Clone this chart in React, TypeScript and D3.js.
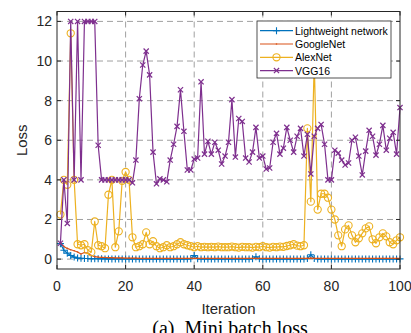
import React from "react";
import * as d3 from "d3";

// iteration numbers 1..100
const iterations = d3.range(1, 101);

const lightweight = [
  0.78, 0.45, 0.3, 0.18, 0.1, 0.05, 0.04, 0.03, 0.03, 0.02,
  0.02, 0.02, 0.02, 0.01, 0.01, 0.01, 0.01, 0.01, 0.01, 0.01,
  0.01, 0.01, 0.01, 0.01, 0.01, 0.01, 0.01, 0.01, 0.01, 0.01,
  0.01, 0.01, 0.01, 0.01, 0.01, 0.01, 0.01, 0.01, 0.02, 0.18,
  0.02, 0.01, 0.01, 0.01, 0.01, 0.01, 0.01, 0.01, 0.01, 0.01,
  0.01, 0.01, 0.01, 0.01, 0.01, 0.01, 0.02, 0.12, 0.02, 0.01,
  0.01, 0.01, 0.01, 0.01, 0.01, 0.01, 0.01, 0.01, 0.01, 0.01,
  0.01, 0.01, 0.03, 0.22, 0.03, 0.01, 0.01, 0.01, 0.01, 0.01,
  0.01, 0.01, 0.01, 0.01, 0.01, 0.01, 0.01, 0.01, 0.01, 0.01,
  0.01, 0.01, 0.01, 0.01, 0.01, 0.01, 0.01, 0.01, 0.01, 0.01,
];

const googleNet = [
  0.8, 0.64, 0.54, 0.47, 0.42, 0.36, 0.26, 0.33, 0.3, 0.18,
  0.12, 0.1, 0.09, 0.08, 0.07, 0.07, 0.06, 0.06, 0.06, 0.05,
  0.05, 0.05, 0.05, 0.04, 0.04, 0.04, 0.04, 0.04, 0.04, 0.04,
  0.04, 0.04, 0.04, 0.04, 0.04, 0.04, 0.04, 0.04, 0.04, 0.04,
  0.04, 0.04, 0.04, 0.04, 0.04, 0.04, 0.04, 0.04, 0.04, 0.04,
  0.04, 0.04, 0.04, 0.04, 0.04, 0.04, 0.04, 0.04, 0.04, 0.04,
  0.04, 0.04, 0.04, 0.04, 0.04, 0.04, 0.04, 0.04, 0.04, 0.04,
  0.04, 0.04, 0.04, 0.05, 0.04, 0.04, 0.04, 0.04, 0.04, 0.04,
  0.04, 0.04, 0.04, 0.04, 0.04, 0.04, 0.04, 0.04, 0.04, 0.04,
  0.04, 0.04, 0.04, 0.04, 0.04, 0.04, 0.04, 0.04, 0.04, 0.04,
];

const alexNet = [
  2.25, 4.0, 3.75, 11.4, 4.0, 0.75, 0.7, 0.75, 0.45, 0.35,
  1.9, 0.7, 0.65, 0.55, 3.25, 4.0, 0.6, 1.4, 3.95, 4.4,
  4.0, 1.1, 0.6, 0.65, 0.75, 1.35, 0.75, 0.9, 0.65, 0.55,
  0.6, 0.7, 0.6, 0.65, 0.75, 0.85, 0.75, 0.7, 0.65, 0.6,
  0.65, 0.6, 0.62, 0.6, 0.62, 0.6, 0.63, 0.6, 0.6, 0.6,
  0.63, 0.6, 0.58, 0.62, 0.6, 0.6, 0.58, 0.62, 0.6, 0.65,
  0.6, 0.58, 0.62, 0.6, 0.63, 0.62, 0.66, 0.7, 0.75, 0.68,
  0.65, 0.7, 6.6, 2.9, 10.0, 2.5, 3.3, 3.3, 3.1, 2.5,
  2.0, 1.2, 0.65, 1.5, 1.7, 1.2, 0.85, 1.05, 1.3, 1.55,
  1.65, 1.0, 0.8, 1.1, 1.3, 1.15, 0.85, 0.75, 0.95, 1.1,
];

const vgg16 = [
  0.8, 4.0, 1.8, 12, 4.0, 12, 4.0, 12, 12, 12,
  12, 5.75, 4.0, 4.0, 4.0, 4.0, 4.0, 4.0, 4.0, 4.0,
  4.0, 3.85, 5.0, 8.1, 9.8, 10.5, 9.3, 5.4, 3.8, 4.05,
  4.0, 3.9, 5.0, 5.8, 6.7, 8.55, 6.45, 4.5, 4.5, 5.05,
  5.1, 8.95, 5.3, 5.95, 5.3, 5.9, 5.5, 4.8, 5.2, 5.9,
  8.05, 5.15, 7.1, 6.95, 5.1, 4.9, 5.4, 6.65, 5.1, 5.2,
  4.55, 4.6, 5.9, 6.35, 5.3, 5.6, 6.65, 6.0, 5.4, 6.2,
  6.6, 5.2, 6.3, 4.3, 6.2, 6.6, 6.8, 5.8, 4.0, 4.0,
  5.5, 5.35, 5.0, 4.75, 4.85, 6.0, 6.15, 5.2, 4.25, 5.45,
  6.5, 6.2, 5.25, 5.8, 6.75, 5.5, 6.1, 6.4, 5.3, 7.65,
];

const seriesNames = ["Lightweight network", "GoogleNet", "AlexNet", "VGG16"];
const seriesColors = ["#0072BD", "#D95319", "#EDB120", "#7E2F8E"];
const seriesMarkers = ["plus", "point", "circle", "cross"];
const seriesValues = [lightweight, googleNet, alexNet, vgg16];

const xTicks = [0, 20, 40, 60, 80, 100];
const yTicks = [0, 2, 4, 6, 8, 10, 12];

const W = 411, H = 333;
const left = 57, right = 400, top = 11.5, bottom = 269;
const axisColor = "#262626";
const sans = "'Liberation Sans', Arial, Helvetica, sans-serif";

function Marker({ kind, x, y, color }: { kind: string; x: number; y: number; color: string }) {
  if (kind === "plus") {
    return (
      <path d={`M${x - 3.5},${y}H${x + 3.5}M${x},${y - 3.5}V${y + 3.5}`} stroke={color} strokeWidth={1.1} fill="none" />
    );
  }
  if (kind === "circle") {
    return <circle cx={x} cy={y} r={3.6} stroke={color} strokeWidth={1.1} fill="none" />;
  }
  if (kind === "cross") {
    return (
      <path d={`M${x - 2.6},${y - 2.6}L${x + 2.6},${y + 2.6}M${x - 2.6},${y + 2.6}L${x + 2.6},${y - 2.6}`} stroke={color} strokeWidth={1.2} fill="none" />
    );
  }
  return <circle cx={x} cy={y} r={0.8} fill={color} />;
}

export default function App() {
  const x = d3.scaleLinear().domain([0, 100]).range([left, right]);
  const y = d3.scaleLinear().domain([-0.5, 12.5]).range([bottom, top]);
  const line = d3.line<number>().x((_, i) => x(iterations[i])).y(d => y(d));

  return (
    <div style={{ position: "absolute", left: 0, top: 0 }}>
      <svg width={W} height={H} style={{ display: "block", background: "#fff" }}>
        <rect x={left} y={top} width={right - left} height={bottom - top} fill="#fff" />
        {/* grid */}
        <g stroke="#a0a0a0" strokeWidth={1} strokeDasharray="6,4">
          {xTicks.filter(t => t > 0 && t < 100).map(t => (
            <line key={"gx" + t} x1={x(t)} x2={x(t)} y1={top} y2={bottom} />
          ))}
          {yTicks.map(t => (
            <line key={"gy" + t} x1={left} x2={right} y1={y(t)} y2={y(t)} />
          ))}
        </g>
        {/* series */}
        {seriesValues.map((vals, s) => (
          <g key={seriesNames[s]}>
            <path d={line(vals) || ""} fill="none" stroke={seriesColors[s]} strokeWidth={1.2} strokeLinejoin="round" />
            {vals.map((v, i) => (
              <Marker key={i} kind={seriesMarkers[s]} x={x(iterations[i])} y={y(v)} color={seriesColors[s]} />
            ))}
          </g>
        ))}
        {/* frame and ticks */}
        <rect x={left} y={top} width={right - left} height={bottom - top} fill="none" stroke={axisColor} strokeWidth={1} />
        <g stroke={axisColor} strokeWidth={1}>
          {xTicks.map(t => (
            <g key={"tx" + t}>
              <line x1={x(t)} x2={x(t)} y1={bottom} y2={bottom - 4} />
              <line x1={x(t)} x2={x(t)} y1={top} y2={top + 4} />
            </g>
          ))}
          {yTicks.map(t => (
            <g key={"ty" + t}>
              <line x1={left} x2={left + 4} y1={y(t)} y2={y(t)} />
              <line x1={right} x2={right - 4} y1={y(t)} y2={y(t)} />
            </g>
          ))}
        </g>
        {/* tick labels */}
        <g fill={axisColor} fontFamily={sans} fontSize={14}>
          {xTicks.map(t => (
            <text key={"lx" + t} x={x(t)} y={291} textAnchor="middle">{t}</text>
          ))}
          {yTicks.map(t => (
            <text key={"ly" + t} x={52} y={y(t)} textAnchor="end" dominantBaseline="central">{t}</text>
          ))}
        </g>
        <text x={(left + right) / 2} y={314} textAnchor="middle" fontFamily={sans} fontSize={15} fill={axisColor}>Iteration</text>
        <text transform={`translate(27,${(top + bottom) / 2}) rotate(-90)`} textAnchor="middle" fontFamily={sans} fontSize={15} fill={axisColor}>Loss</text>
        {/* legend */}
        <g>
          <rect x={257} y={21} width={134} height={57} fill="#fff" stroke={axisColor} strokeWidth={0.8} />
          {seriesNames.map((name, s) => {
            const ly = 30.7 + s * 13.3;
            return (
              <g key={"lg" + name}>
                <line x1={260} x2={293} y1={ly} y2={ly} stroke={seriesColors[s]} strokeWidth={1.2} />
                <Marker kind={seriesMarkers[s]} x={276.5} y={ly} color={seriesColors[s]} />
                <text x={295} y={ly} dominantBaseline="central" fontFamily={sans} fontSize={10.5} fill="#000">{name}</text>
              </g>
            );
          })}
        </g>
        <text x={230} y={335} textAnchor="middle" fontFamily="'Liberation Serif', 'Times New Roman', serif" fontSize={20} fill="#000" xmlSpace="preserve">(a)  Mini batch loss</text>
      </svg>
    </div>
  );
}
